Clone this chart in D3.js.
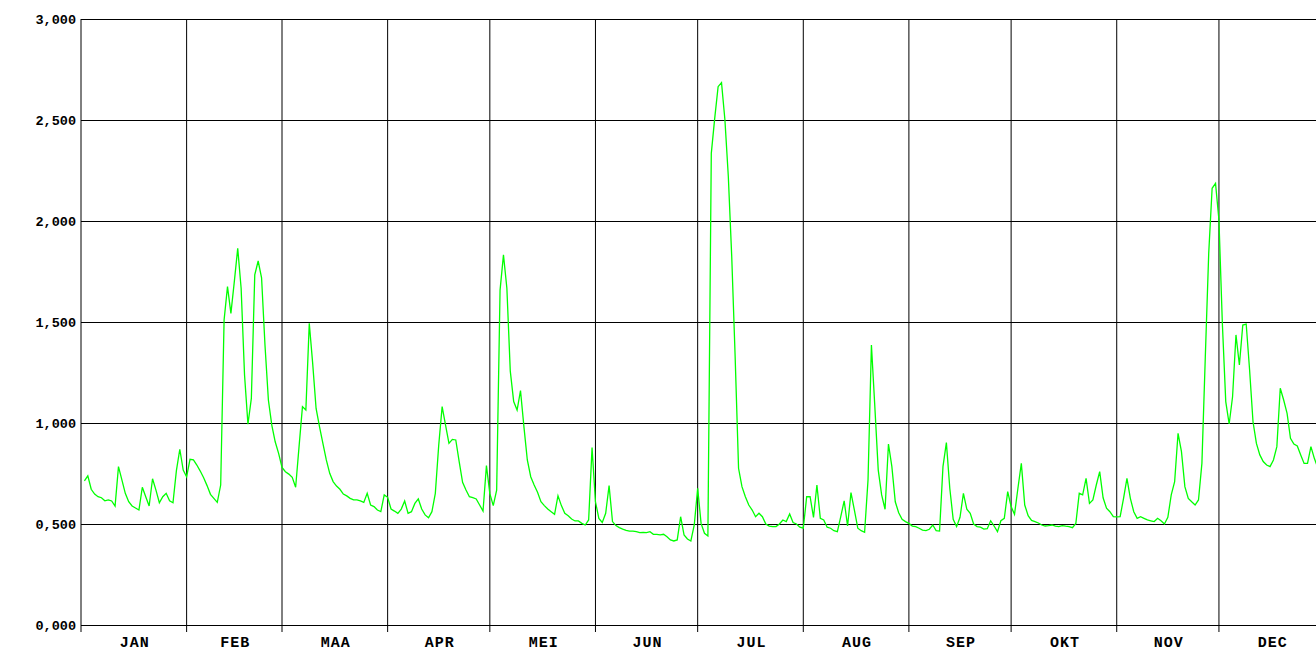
<!DOCTYPE html>
<html>
<head>
<meta charset="utf-8">
<script src="https://cdn.jsdelivr.net/npm/d3@7"></script>
<style>
  html, body { margin: 0; padding: 0; background: #fff; overflow: hidden; }
  svg { display: block; }
  text { font-family: "Liberation Mono", "Courier New", monospace; font-weight: bold; fill: #000; }
</style>
</head>
<body>
<svg id="chart" width="1316" height="649"></svg>
<script>
const months = ["JAN","FEB","MAA","APR","MEI","JUN","JUL","AUG","SEP","OKT","NOV","DEC"];
const monthDays = [31,28,31,30,31,30,31,31,30,31,30,31];
const yTicks = [0, 0.5, 1.0, 1.5, 2.0, 2.5, 3.0];

const jan = [0.713,0.738,0.672,0.648,0.635,0.630,0.615,0.619,0.614,0.589,0.784,0.718,0.652,0.610,0.589,0.579,0.569,0.682,0.635,0.589,0.724,0.668,0.605,0.635,0.652,0.615,0.605,0.764,0.870,0.767,0.734];
const feb = [0.820,0.817,0.792,0.762,0.729,0.690,0.647,0.627,0.607,0.693,1.510,1.675,1.543,1.700,1.865,1.667,1.238,0.994,1.122,1.733,1.802,1.719,1.386,1.114,0.990,0.907,0.850,0.780];
const mar = [0.759,0.747,0.731,0.682,0.883,1.081,1.064,1.494,1.295,1.072,0.982,0.899,0.817,0.751,0.710,0.688,0.672,0.648,0.639,0.627,0.619,0.619,0.614,0.607,0.652,0.594,0.586,0.569,0.561,0.644,0.632];
const apr = [0.574,0.564,0.553,0.574,0.614,0.553,0.561,0.602,0.624,0.574,0.545,0.531,0.561,0.652,0.891,1.081,0.990,0.899,0.919,0.916,0.809,0.706,0.668,0.635,0.630,0.624,0.594,0.564,0.789,0.650];
const mei = [0.591,0.668,1.658,1.832,1.667,1.257,1.106,1.064,1.160,0.982,0.817,0.734,0.693,0.657,0.610,0.591,0.574,0.561,0.548,0.640,0.591,0.553,0.541,0.525,0.515,0.515,0.503,0.495,0.520,0.878,0.610];
const jun = [0.528,0.508,0.553,0.690,0.512,0.492,0.482,0.475,0.469,0.465,0.465,0.462,0.457,0.459,0.457,0.462,0.449,0.449,0.446,0.449,0.437,0.421,0.416,0.421,0.536,0.446,0.426,0.416,0.495,0.677];
const jul = [0.503,0.454,0.441,2.335,2.508,2.665,2.685,2.500,2.219,1.823,1.328,0.776,0.685,0.635,0.594,0.569,0.536,0.553,0.536,0.500,0.490,0.487,0.487,0.500,0.520,0.512,0.550,0.507,0.500,0.484,0.479];
const aug = [0.635,0.635,0.533,0.693,0.528,0.520,0.484,0.479,0.467,0.462,0.536,0.615,0.490,0.655,0.569,0.479,0.467,0.459,0.718,1.386,1.081,0.767,0.644,0.573,0.896,0.784,0.610,0.556,0.523,0.512,0.503];
const sep = [0.490,0.487,0.479,0.470,0.467,0.474,0.495,0.467,0.465,0.784,0.903,0.677,0.523,0.487,0.533,0.652,0.573,0.553,0.500,0.487,0.484,0.475,0.477,0.516,0.490,0.462,0.516,0.528,0.660,0.586];
const okt = [0.548,0.677,0.800,0.594,0.541,0.518,0.512,0.505,0.495,0.490,0.492,0.495,0.489,0.487,0.492,0.489,0.487,0.482,0.503,0.652,0.644,0.726,0.602,0.619,0.693,0.759,0.630,0.578,0.561,0.536,0.535];
const nov = [0.536,0.627,0.726,0.627,0.561,0.528,0.536,0.528,0.520,0.516,0.512,0.528,0.516,0.500,0.533,0.644,0.710,0.949,0.858,0.685,0.627,0.610,0.594,0.619,0.800,1.328,1.840,2.162,2.186,2.005];
const dec = [1.494,1.106,0.995,1.130,1.436,1.287,1.485,1.490,1.262,1.006,0.899,0.842,0.809,0.792,0.784,0.817,0.883,1.172,1.114,1.048,0.924,0.896,0.886,0.842,0.800,0.800,0.883,0.825,0.780];

const series = [].concat(jan, feb, mar, apr, mei, jun, jul, aug, sep, okt, nov, dec);
const data = series.map((v, i) => ({ day: i + 1, v }));

const svg = d3.select("#chart");
const plotLeft = 81, plotTop = 19, plotBottom = 625;
const pxPerDay = 3.407;

const x = d3.scaleLinear().domain([0, 365]).range([plotLeft, plotLeft + 365 * pxPerDay]);
const y = d3.scaleLinear().domain([0, 3]).range([plotBottom, plotTop]);

const nl = d3.formatLocale({ decimal: ",", thousands: ".", grouping: [3], currency: ["€", ""] });
const fmt = nl.format(".3f");

const bounds = [0];
monthDays.forEach(d => bounds.push(bounds[bounds.length - 1] + d));

// horizontal grid
svg.append("g").selectAll("line").data(yTicks).join("line")
  .attr("x1", plotLeft).attr("x2", 1316)
  .attr("y1", d => Math.round(y(d)) + 0.5).attr("y2", d => Math.round(y(d)) + 0.5)
  .attr("stroke", "#000").attr("stroke-width", 1);

// vertical month lines
svg.append("g").selectAll("line").data(bounds.slice(0, 12)).join("line")
  .attr("x1", d => x(d)).attr("x2", d => x(d))
  .attr("y1", plotTop).attr("y2", plotBottom + 7)
  .attr("stroke", "#000").attr("stroke-width", 1);

// y labels
svg.append("g").selectAll("text").data(yTicks).join("text")
  .attr("x", 76).attr("y", d => y(d) + 1)
  .attr("text-anchor", "end").attr("dominant-baseline", "middle")
  .style("font-size", "13.5px")
  .text(d => fmt(d));

// month labels
svg.append("g").selectAll("text").data(months).join("text")
  .attr("x", (d, i) => x((bounds[i] + bounds[i + 1]) / 2) + 1)
  .attr("y", 647)
  .attr("text-anchor", "middle")
  .style("font-size", "15px")
  .style("letter-spacing", "1px")
  .text(d => d);

// data line
const line = d3.line().x(d => x(d.day)).y(d => y(d.v));
svg.append("path").datum(data)
  .attr("d", line)
  .attr("fill", "none")
  .attr("stroke", "#00ff00")
  .attr("stroke-width", 1.3);
</script>
</body>
</html>
